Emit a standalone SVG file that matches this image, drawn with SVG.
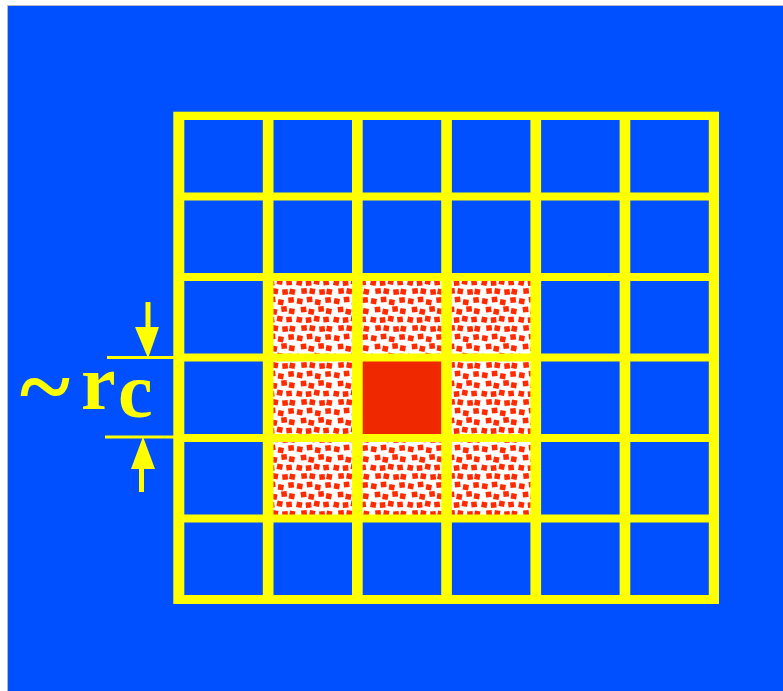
<svg xmlns="http://www.w3.org/2000/svg" xmlns:xlink="http://www.w3.org/1999/xlink" width="783" height="691" viewBox="0 0 783 691">
<style>
.cell{fill:#0050FF}
.stip{fill:url(#stipple)}
.yel{fill:#FFFF00}
.lbl{font-family:"Liberation Serif","Times New Roman",serif;font-weight:bold;fill:#FFFF00}
</style>
<defs>
<rect id="d1" width="5.6" height="5.6" fill="#FF2A00" transform="rotate(10)"/>
<rect id="d2" width="5.6" height="5.6" fill="#FF2A00" transform="rotate(-6)"/>
<pattern id="stipple" patternUnits="userSpaceOnUse" width="37" height="37">
<rect width="37" height="37" fill="#FFFFFF"/>
<use xlink:href="#d1" x="1.5" y="2"/><use xlink:href="#d2" x="10.5" y="1"/><use xlink:href="#d1" x="19.5" y="3"/><use xlink:href="#d2" x="29" y="1.5"/>
<use xlink:href="#d2" x="4.5" y="11"/><use xlink:href="#d1" x="13" y="12.5"/><use xlink:href="#d2" x="22" y="10.5"/><use xlink:href="#d1" x="30.5" y="12"/>
<use xlink:href="#d1" x="1" y="20.5"/><use xlink:href="#d2" x="9.5" y="21.5"/><use xlink:href="#d1" x="18.5" y="19.5"/><use xlink:href="#d2" x="27" y="21"/>
<use xlink:href="#d2" x="5" y="29.5"/><use xlink:href="#d1" x="14" y="29"/><use xlink:href="#d2" x="23" y="30.5"/><use xlink:href="#d1" x="31" y="29.5"/>
</pattern>
</defs>
<rect x="0" y="0" width="783" height="691" fill="#FFFFFF"/>
<rect x="7" y="5" width="776" height="686" fill="#B8B8C0"/>
<rect id="background" x="8" y="6" width="775" height="685" fill="#0050FF"/>
<g id="grid">
<rect class="yel" x="173.3" y="111.7" width="545.7" height="492.3"/>
<g id="row0">
<rect class="cell" x="184.3" y="120" width="78.5" height="72.5"/><rect class="cell" x="273.5" y="120" width="78.5" height="72.5"/><rect class="cell" x="362.7" y="120" width="78.5" height="72.5"/><rect class="cell" x="451.9" y="120" width="78.5" height="72.5"/><rect class="cell" x="541.1" y="120" width="78.5" height="72.5"/><rect class="cell" x="630.3" y="120" width="78.5" height="72.5"/>
</g>
<g id="row1">
<rect class="cell" x="184.3" y="200.5" width="78.5" height="72.5"/><rect class="cell" x="273.5" y="200.5" width="78.5" height="72.5"/><rect class="cell" x="362.7" y="200.5" width="78.5" height="72.5"/><rect class="cell" x="451.9" y="200.5" width="78.5" height="72.5"/><rect class="cell" x="541.1" y="200.5" width="78.5" height="72.5"/><rect class="cell" x="630.3" y="200.5" width="78.5" height="72.5"/>
</g>
<g id="row2">
<rect class="cell" x="184.3" y="281" width="78.5" height="72.5"/><rect class="stip" x="273.5" y="281" width="78.5" height="72.5"/><rect class="stip" x="362.7" y="281" width="78.5" height="72.5"/><rect class="stip" x="451.9" y="281" width="78.5" height="72.5"/><rect class="cell" x="541.1" y="281" width="78.5" height="72.5"/><rect class="cell" x="630.3" y="281" width="78.5" height="72.5"/>
</g>
<g id="row3">
<rect class="cell" x="184.3" y="361.5" width="78.5" height="72.5"/><rect class="stip" x="273.5" y="361.5" width="78.5" height="72.5"/><rect id="center" x="362.7" y="361.5" width="78.5" height="72.5" fill="#F02800"/><rect class="stip" x="451.9" y="361.5" width="78.5" height="72.5"/><rect class="cell" x="541.1" y="361.5" width="78.5" height="72.5"/><rect class="cell" x="630.3" y="361.5" width="78.5" height="72.5"/>
</g>
<g id="row4">
<rect class="cell" x="184.3" y="442" width="78.5" height="72.5"/><rect class="stip" x="273.5" y="442" width="78.5" height="72.5"/><rect class="stip" x="362.7" y="442" width="78.5" height="72.5"/><rect class="stip" x="451.9" y="442" width="78.5" height="72.5"/><rect class="cell" x="541.1" y="442" width="78.5" height="72.5"/><rect class="cell" x="630.3" y="442" width="78.5" height="72.5"/>
</g>
<g id="row5">
<rect class="cell" x="184.3" y="522.5" width="78.5" height="72.5"/><rect class="cell" x="273.5" y="522.5" width="78.5" height="72.5"/><rect class="cell" x="362.7" y="522.5" width="78.5" height="72.5"/><rect class="cell" x="451.9" y="522.5" width="78.5" height="72.5"/><rect class="cell" x="541.1" y="522.5" width="78.5" height="72.5"/><rect class="cell" x="630.3" y="522.5" width="78.5" height="72.5"/>
</g>
</g>
<g id="dimension">
<rect class="yel" x="107" y="356" width="67" height="3"/>
<rect class="yel" x="105" y="435.5" width="69" height="3"/>
<rect class="yel" x="145.5" y="302" width="5" height="27"/>
<polygon class="yel" points="135,327 159,327 148.5,357 147.5,357"/>
<rect class="yel" x="139" y="467" width="5" height="25"/>
<polygon class="yel" points="131,469 155,469 143.5,438 142.5,438"/>
</g>
<g id="label">
<text class="lbl" x="20" y="418" font-size="96">~</text>
<text class="lbl" x="81" y="409" font-size="78">r</text>
<text class="lbl" x="118" y="417" font-size="78">c</text>
</g>
</svg>
